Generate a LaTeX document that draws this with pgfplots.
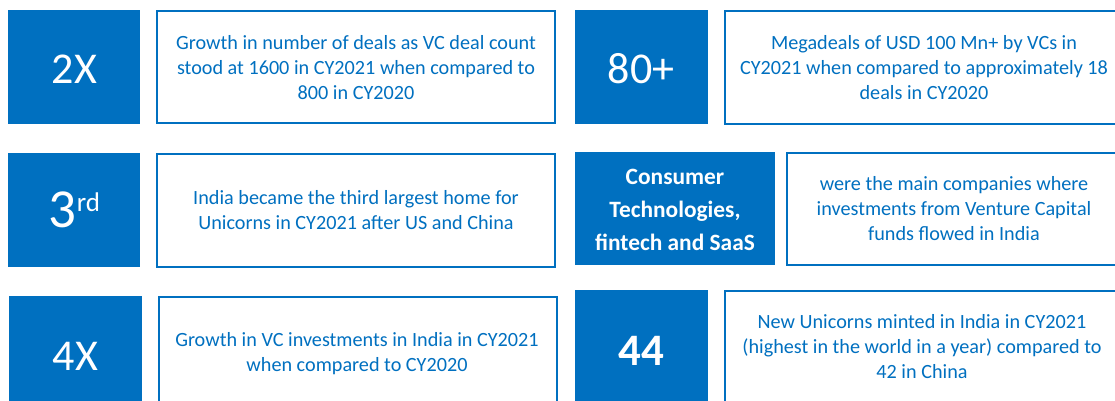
\documentclass[border=0pt]{standalone}
\usepackage{pgfplots}
\pgfplotsset{compat=1.18}
\usepackage{fontspec}
\setmainfont{Carlito}
\definecolor{vcblue}{HTML}{0070C0}
\begin{document}
\begin{tikzpicture}
\begin{axis}[hide axis, scale only axis, width=1115bp, height=401bp,
  xmin=0, xmax=1115, ymin=0, ymax=401, y dir=reverse, clip=true]
% blue number boxes
\addplot[fill=vcblue, draw=none] coordinates {(8,10) (140,10) (140,124) (8,124)} -- cycle;
\addplot[fill=vcblue, draw=none] coordinates {(575,10) (708,10) (708,124) (575,124)} -- cycle;
\addplot[fill=vcblue, draw=none] coordinates {(8,153) (140,153) (140,267) (8,267)} -- cycle;
\addplot[fill=vcblue, draw=none] coordinates {(575,152) (775,152) (775,265) (575,265)} -- cycle;
\addplot[fill=vcblue, draw=none] coordinates {(9,296) (142,296) (142,410) (9,410)} -- cycle;
\addplot[fill=vcblue, draw=none] coordinates {(575,290) (708,290) (708,410) (575,410)} -- cycle;
% white outlined text boxes
\addplot[draw=vcblue, line width=1.4bp, fill=white] coordinates {(157,11) (555,11) (555,123) (157,123)} -- cycle;
\addplot[draw=vcblue, line width=1.4bp, fill=white] coordinates {(725,11) (1125,11) (1125,124) (725,124)} -- cycle;
\addplot[draw=vcblue, line width=1.4bp, fill=white] coordinates {(157,154) (555,154) (555,267) (157,267)} -- cycle;
\addplot[draw=vcblue, line width=1.4bp, fill=white] coordinates {(787,153) (1125,153) (1125,265) (787,265)} -- cycle;
\addplot[draw=vcblue, line width=1.4bp, fill=white] coordinates {(159,297) (557,297) (557,410) (159,410)} -- cycle;
\addplot[draw=vcblue, line width=1.4bp, fill=white] coordinates {(725,291) (1125,291) (1125,410) (725,410)} -- cycle;
% big numbers
\node[anchor=base, text=white, font=\fontsize{44bp}{44bp}\selectfont, inner sep=0pt] at (axis cs:74.5,83) {2X};
\node[anchor=base, text=white, font=\fontsize{44bp}{44bp}\selectfont, inner sep=0pt] at (axis cs:641,83) {80+};
\node[anchor=base, text=white, inner sep=0pt] at (axis cs:74.5,227) {\fontsize{55bp}{55bp}\selectfont 3\raisebox{16bp}{\fontsize{27bp}{27bp}\selectfont rd}};
\node[anchor=base, text=white, font=\fontsize{44bp}{44bp}\selectfont, inner sep=0pt] at (axis cs:75.5,370) {4X};
\node[anchor=base, text=white, font=\fontsize{45bp}{45bp}\selectfont\bfseries, inner sep=0pt] at (axis cs:641,365) {44};
\node[align=center, text=white, font=\fontsize{23.4bp}{33bp}\selectfont\bfseries, inner sep=0pt] at (axis cs:675,210) {Consumer\\Technologies,\\fintech and SaaS};
% body texts
\tikzset{body/.style={align=center, text=vcblue, font=\fontsize{20.2bp}{24.6bp}\selectfont, inner sep=0pt}}
\node[body] at (axis cs:356,67.5) {Growth in number of deals as VC deal count\\stood at 1600 in CY2021 when compared to\\800 in CY2020};
\node[body] at (axis cs:924,67.5) {Megadeals of USD 100 Mn+ by VCs in\\CY2021 when compared to approximately 18\\deals in CY2020};
\node[body] at (axis cs:356,210) {India became the third largest home for\\Unicorns in CY2021 after US and China};
\node[body] at (axis cs:954,208.5) {were the main companies where\\investments from Venture Capital\\funds flowed in India};
\node[body] at (axis cs:357,353.5) {Growth in VC investments in India in CY2021\\when compared to CY2020};
\node[body] at (axis cs:922,346.5) {New Unicorns minted in India in CY2021\\(highest in the world in a year) compared to\\42 in China};
\end{axis}
\pgfresetboundingbox
\path[use as bounding box] (current axis.south west) rectangle (current axis.north east);
\end{tikzpicture}
\end{document}
